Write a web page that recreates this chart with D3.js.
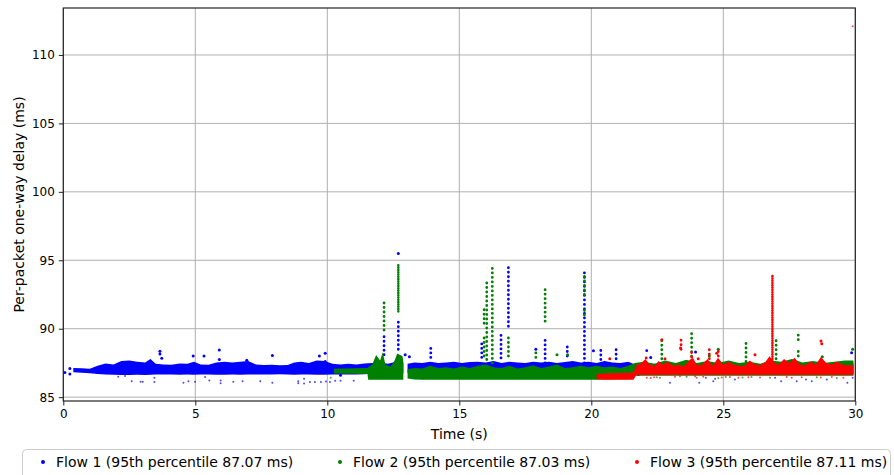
<!DOCTYPE html>
<html><head><meta charset="utf-8">
<script src="https://cdn.jsdelivr.net/npm/d3@7"></script>
<style>
html,body{margin:0;padding:0;background:#fff;}
svg text{font-family:"DejaVu Sans",sans-serif;fill:#000;}
</style></head>
<body><svg id="c" width="894" height="475"></svg>
<script>
// ---------- data ----------
const xTicks = [0, 5, 10, 15, 20, 25, 30];
const yTicks = [85, 90, 95, 100, 105, 110];
const xDomain = [0, 30];
const yDomain = [84.72, 113.43];
const xLabel = "Time (s)";
const yLabel = "Per-packet one-way delay (ms)";
const flowNames = ["Flow 1 (95th percentile 87.07 ms)", "Flow 2 (95th percentile 87.03 ms)", "Flow 3 (95th percentile 87.11 ms)"];
const flowColors = ["#0000ff", "#008000", "#ff0000"];

// dense band envelopes: [time, low, high]; null low = gap
const flow1Band = [
 [0.38,86.90,87.04],[0.7,86.88,87.02],[1.0,86.84,86.98],[1.3,86.78,87.2],[1.6,86.74,87.38],[1.9,86.72,87.3],
 [2.2,86.7,87.55],[2.5,86.7,87.6],[2.8,86.72,87.5],[3.1,86.7,87.45],[3.3,86.72,87.7],[3.5,86.75,87.35],
 [3.8,86.75,87.3],[4.1,86.74,87.28],[4.4,86.73,87.38],[4.7,86.75,87.35],[4.95,86.72,87.5],[5.2,86.75,87.3],
 [5.5,86.74,87.28],[5.8,86.72,87.45],[6.1,86.73,87.5],[6.4,86.74,87.45],[6.7,86.72,87.5],[7.0,86.74,87.55],
 [7.3,86.75,87.3],[7.6,86.75,87.26],[7.9,86.75,87.28],[8.2,86.76,87.25],[8.5,86.75,87.27],[8.75,86.72,87.45],
 [9.0,86.74,87.5],[9.3,86.74,87.4],[9.6,86.72,87.6],[9.9,86.72,87.55],[10.2,86.75,87.35],[10.5,86.75,87.3],
 [10.8,86.74,87.35],[11.1,86.75,87.3],[11.4,86.76,87.38],[11.7,86.8,87.4],[12.0,86.8,87.45],[12.3,86.82,87.35],
 [12.6,86.82,87.5],[12.88,86.82,87.4],[12.9,null,null],[13.04,86.85,87.35],[13.3,86.85,87.45],[13.6,86.85,87.4],[13.9,86.85,87.5],
 [14.2,86.85,87.4],[14.5,86.85,87.45],[14.8,86.85,87.5],[15.1,86.85,87.4],[15.4,86.85,87.48],[15.7,86.85,87.5],
 [16.0,86.85,87.45],[16.3,86.85,87.55],[16.6,86.85,87.4],[16.9,86.85,87.5],[17.2,86.85,87.45],[17.5,86.85,87.4],
 [17.8,86.85,87.5],[18.1,86.85,87.45],[18.4,86.85,87.5],[18.7,86.85,87.4],[19.0,86.85,87.48],[19.3,86.85,87.55],
 [19.6,86.85,87.45],[19.9,86.85,87.5],[20.2,86.85,87.4],[20.5,86.85,87.55],[20.8,86.85,87.45],[21.1,86.85,87.4],
 [21.4,86.85,87.5],[21.65,86.8,87.3],[22.5,86.8,87.35],[23.5,86.8,87.3],[24.5,86.8,87.35],[25.5,86.8,87.3],
 [26.5,86.8,87.3],[27.5,86.8,87.35],[28.5,86.8,87.3],[29.5,86.8,87.4],[29.93,86.8,87.4]
];
const flow2Band = [
 [10.25,86.82,86.98],[10.6,86.8,87.0],[11.0,86.8,87.02],[11.3,86.78,87.05],[11.52,86.78,87.05],[11.55,86.36,87.1],[11.7,86.36,87.3],
 [11.85,86.36,88.0],[12.0,86.36,87.6],[12.1,86.36,88.2],[12.2,86.36,87.3],[12.4,86.36,87.15],[12.55,86.36,87.6],
 [12.65,86.36,88.1],[12.85,86.36,87.9],[12.88,86.36,87.5],[12.9,null,null],[13.04,86.45,86.95],[13.3,86.38,87.05],[13.6,86.36,87.0],
 [13.9,86.36,87.2],[14.2,86.36,87.05],[14.5,86.36,87.1],[14.8,86.36,87.0],[15.1,86.36,87.15],[15.4,86.36,87.05],
 [15.7,86.36,87.2],[16.0,86.36,87.3],[16.3,86.36,87.1],[16.6,86.36,87.05],[16.9,86.36,87.2],[17.2,86.36,87.0],
 [17.5,86.36,87.1],[17.8,86.36,87.25],[18.1,86.36,87.05],[18.4,86.36,87.15],[18.7,86.36,87.3],[19.0,86.36,87.05],
 [19.3,86.36,87.1],[19.6,86.36,87.2],[19.9,86.36,87.1],[20.2,86.36,87.2],[20.5,86.38,87.1],[20.8,86.4,87.15],
 [21.1,86.4,87.05],[21.4,86.4,87.2],[21.65,86.65,87.4],[22.0,86.65,87.5],[22.4,86.65,87.35],[22.8,86.65,87.6],
 [23.2,86.65,87.4],[23.6,86.65,87.65],[24.0,86.65,87.4],[24.4,86.65,87.55],[24.8,86.65,87.4],[25.2,86.65,87.6],
 [25.6,86.65,87.4],[26.0,86.65,87.5],[26.4,86.65,87.35],[26.8,86.65,87.6],[27.2,86.65,87.5],[27.6,86.65,87.7],
 [28.0,86.65,87.45],[28.4,86.65,87.55],[28.8,86.65,87.4],[29.2,86.65,87.5],[29.6,86.65,87.6],[29.93,86.65,87.6]
];
const flow3Band = [
 [20.2,86.4,86.6],[20.5,86.36,86.65],[21.0,86.36,86.68],[21.3,86.36,86.7],[21.6,86.36,86.72],[21.7,86.68,87.25],[21.9,86.7,87.4],
 [22.05,86.7,87.7],[22.2,86.7,87.3],[22.4,86.7,87.2],[22.55,86.7,87.55],[22.7,86.7,87.3],[22.9,86.7,87.5],
 [23.1,86.7,87.2],[23.3,86.7,87.3],[23.5,86.7,87.15],[23.7,86.7,87.6],[23.85,86.7,87.8],[24.0,86.7,87.25],
 [24.2,86.7,87.3],[24.4,86.7,87.7],[24.6,86.7,87.2],[24.8,86.7,87.8],[25.0,86.7,87.3],[25.2,86.7,87.5],
 [25.4,86.7,87.3],[25.6,86.7,87.2],[25.8,86.7,87.2],[26.0,86.7,87.6],[26.2,86.7,87.3],[26.4,86.7,87.25],
 [26.6,86.7,87.5],[26.75,86.7,87.9],[26.95,86.7,87.4],[27.1,86.7,87.3],[27.3,86.7,87.7],[27.5,86.7,87.4],
 [27.7,86.7,87.8],[27.9,86.7,87.3],[28.1,86.7,87.25],[28.3,86.7,87.5],[28.5,86.7,87.3],[28.7,86.7,87.85],
 [28.9,86.7,87.4],[29.1,86.7,87.3],[29.3,86.7,87.5],[29.5,86.7,87.3],[29.7,86.7,87.25],[29.93,86.7,87.25]
];

// sparse vertical bursts: [time, low, high]
const flow1Spikes = [
 [12.15,88.1,89.45],[12.69,88.5,90.7],[13.92,87.9,88.77],[15.85,87.9,88.9],[16.58,87.87,89.81],[16.86,90.18,94.75],
 [18.25,87.5,89.4],[19.09,88.0,88.9],[19.74,87.5,94.3],[20.36,87.75,88.55],[20.94,87.8,88.5],[22.1,88.4,88.6]
];
const flow2Spikes = [
 [12.15,89.9,92.05],[15.94,90.4,91.5],[15.94,88.0,89.4],[16.04,87.75,93.46],[16.25,87.5,94.51],[16.86,88.0,89.6],
 [18.25,90.55,93.15],[17.9,87.9,88.4],[19.74,92.5,94.0],[19.74,91.0,91.6],[22.67,87.8,89.3],[23.8,87.0,89.95],
 [25.86,87.6,89.2],[27.0,87.8,89.2],[27.84,89.2,89.6],[27.84,88.0,88.5]
];
const flow3Spikes = [
 [22.08,87.2,88.0],[23.4,88.5,89.2],[23.8,87.6,88.3],[24.47,87.8,88.5],[24.81,88.0,88.5]
];
// dense vertical bursts: [time, low, high]
const flow1Runs = [];
const flow2Runs = [[12.69,91.27,94.7]];
const flow3Runs = [[26.86,86.78,94.0]];

// single packets: [time, delay]
const flow1Points = [
 [0.06,86.8],[0.25,87.1],[0.25,86.7],[3.66,88.35],[3.66,88.15],[3.73,87.85],[4.92,88.0],[5.33,88.0],[5.91,88.45],
 [5.91,87.75],[6.95,87.7],[7.92,88.05],[9.7,88.0],[9.92,88.2],[9.92,87.6],[12.69,95.5],[12.95,88.1],[13.11,87.95],
 [17.9,88.5],[20.08,88.4],[22.25,87.9],[23.95,88.3],[29.86,88.24],
 [2.08,86.49],[2.34,86.54],[2.59,86.17],[2.93,86.12],[3.01,86.12],[3.45,86.42],[3.45,86.1],[4.55,86.05],[4.74,86.17],
 [4.99,86.12],[5.37,86.47],[5.53,86.22],[5.96,86.22],[5.96,86.02],[6.44,86.12],[6.79,86.17],[7.46,86.17],[7.92,86.05],
 [8.90,86.17],[8.90,86.02],[9.12,86.35],[9.12,85.99],[9.34,86.1],[9.53,86.1],[9.76,86.1],[9.95,86.15],[10.1,86.1],
 [10.3,86.2],[10.5,86.2],[10.5,86.6],[11.0,86.2],
 [21.78,86.66],[22.98,86.05],[24.09,86.05],[24.34,86.41],[24.62,86.17],[24.69,86.34],[25.44,86.29],[26.96,86.41],
 [27.19,86.17],[27.78,86.17],[28.13,86.29],[28.35,86.17],[28.92,86.29],[29.70,86.05],[29.90,86.41]
];
const flow2Points = [
 [10.13,86.41],[18.7,88.1],[19.1,88.1],[24.47,88.0],[24.81,88.5],[29.9,88.5],[28.75,87.95],
 [22.48,86.45],[22.60,86.42],[23.36,86.53],[23.61,86.5],[23.93,86.53],[24.81,86.4],[25.09,86.47],[25.73,86.43],
 [26.07,86.48],[26.77,86.42],[28.54,86.46],[29.30,86.4]
];
const flow3Points = [
 [20.7,87.8],[22.67,89.2],[22.79,87.8],[23.38,88.6],[24.05,87.8],[24.75,88.2],[26.2,88.1],[28.7,89.1],[28.73,88.9],
 [29.9,112.1],
 [22.10,86.41],[22.25,86.4],[22.38,86.45],[23.17,86.49],[23.99,86.41],[24.24,86.49],[24.94,86.44],[25.25,86.47],
 [25.57,86.42],[25.95,86.46],[26.39,86.43],[27.40,86.47],[27.59,86.41],[27.97,86.45],[28.69,86.43],[29.11,86.47],
 [29.55,86.42]
];

// ---------- drawing ----------
const svg = d3.select("#c");
const M = {left: 63.3, right: 855.3, top: 8, bottom: 401};
const x = d3.scaleLinear().domain(xDomain).range([M.left, M.right]);
const y = d3.scaleLinear().domain(yDomain).range([M.bottom, M.top]);

// grid
const grid = svg.append("g");
grid.selectAll(".gx").data(xTicks).join("line")
  .attr("x1", d => x(d)).attr("x2", d => x(d)).attr("y1", M.top).attr("y2", M.bottom)
  .attr("stroke", "#b0b0b0").attr("stroke-width", 1);
grid.selectAll(".gy").data(yTicks).join("line")
  .attr("x1", M.left).attr("x2", M.right).attr("y1", d => y(d)).attr("y2", d => y(d))
  .attr("stroke", "#b0b0b0").attr("stroke-width", 1);

svg.append("clipPath").attr("id", "pc").append("rect")
  .attr("x", M.left).attr("y", M.top).attr("width", M.right - M.left).attr("height", M.bottom - M.top);
const plot = svg.append("g").attr("clip-path", "url(#pc)");

const bands = [flow1Band, flow2Band, flow3Band];
const spikes = [flow1Spikes, flow2Spikes, flow3Spikes];
const runs = [flow1Runs, flow2Runs, flow3Runs];
const points = [flow1Points, flow2Points, flow3Points];

const area = d3.area()
  .defined(d => d[1] !== null)
  .curve(d3.curveLinear)
  .x(d => x(d[0])).y0(d => y(d[1]) + 1.2).y1(d => y(d[2]) - 1.2);

bands.forEach((band, i) => {
  const g = plot.append("g");
  const c = flowColors[i];
  g.append("path").datum(band).attr("d", area).attr("fill", c);
  g.selectAll("line.sp").data(spikes[i]).join("line")
    .attr("x1", d => x(d[0])).attr("x2", d => x(d[0]))
    .attr("y1", d => y(d[1])).attr("y2", d => y(d[2]))
    .attr("stroke", c).attr("stroke-width", 2.8).attr("stroke-linecap", "round")
    .attr("stroke-dasharray", "0.1,4.4");
  g.selectAll("line.rn").data(runs[i]).join("line")
    .attr("x1", d => x(d[0])).attr("x2", d => x(d[0]))
    .attr("y1", d => y(d[1])).attr("y2", d => y(d[2]))
    .attr("stroke", c).attr("stroke-width", 2.6).attr("stroke-linecap", "round")
    .attr("stroke-dasharray", "0.1,2.2");
  g.selectAll("circle").data(points[i]).join("circle")
    .attr("cx", d => x(d[0])).attr("cy", d => y(d[1])).attr("r", d => d[1] < 86.6 || d[1] > 100 ? 1.0 : 1.5)
    .attr("fill", c).attr("fill-opacity", d => d[1] < 86.6 || d[1] > 100 ? 0.7 : 1);
});

// frame
svg.append("rect").attr("x", M.left).attr("y", M.top)
  .attr("width", M.right - M.left).attr("height", M.bottom - M.top)
  .attr("fill", "none").attr("stroke", "#222").attr("stroke-width", 1.2);

// axes
const xa = svg.append("g").attr("transform", `translate(0,${M.bottom})`)
  .call(d3.axisBottom(x).tickValues(xTicks).tickSize(4.5).tickPadding(4).tickFormat(d3.format("d")));
const ya = svg.append("g").attr("transform", `translate(${M.left},0)`)
  .call(d3.axisLeft(y).tickValues(yTicks).tickSize(4.5).tickPadding(4).tickFormat(d3.format("d")));
[xa, ya].forEach(a => {
  a.select(".domain").remove();
  a.selectAll("line").attr("stroke", "#222");
  a.selectAll("text").attr("font-size", 12).attr("font-family", "DejaVu Sans").attr("fill", "#000");
});

svg.append("text").attr("x", (M.left + M.right) / 2).attr("y", 439)
  .attr("text-anchor", "middle").attr("font-size", 14).text(xLabel);
svg.append("text").attr("transform", `translate(24,${(M.top + M.bottom) / 2}) rotate(-90)`)
  .attr("text-anchor", "middle").attr("font-size", 14).text(yLabel);

// legend
const lg = svg.append("g");
lg.append("rect").attr("x", 22.5).attr("y", 449.5).attr("width", 868).attr("height", 40)
  .attr("rx", 4).attr("fill", "#fff").attr("stroke", "#cccccc");
const lx = [43, 340, 637];
flowNames.forEach((n, i) => {
  lg.append("circle").attr("cx", lx[i]).attr("cy", 462).attr("r", 2).attr("fill", flowColors[i]);
  lg.append("text").attr("x", lx[i] + 13).attr("y", 467).attr("font-size", 14).text(n);
});
</script></body></html>
